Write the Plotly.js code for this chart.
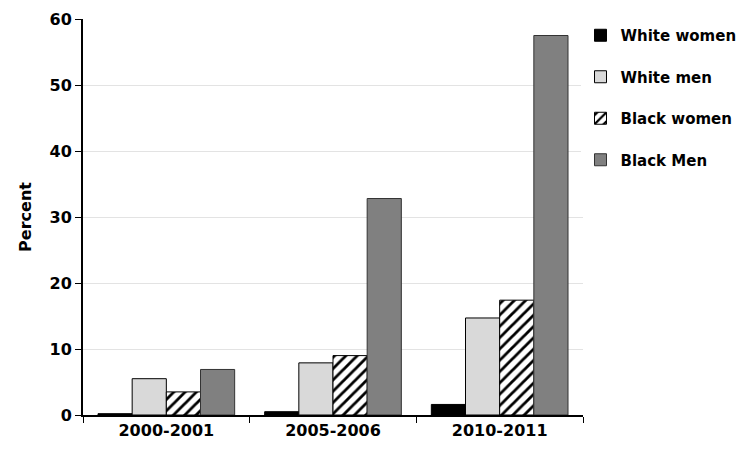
<!DOCTYPE html>
<html><head><meta charset="utf-8">
<script src="https://cdn.plot.ly/plotly-3.0.1.min.js"></script>
<style>body{margin:0;background:#fff}#c{width:754px;height:455px}</style>
</head><body><div id="c"></div>
<script>
const categories = ["2000-2001", "2005-2006", "2010-2011"];
const seriesNames = ["White women", "White men", "Black women", "Black Men"];
const whiteWomen = [0.2, 0.5, 1.6];
const whiteMen = [5.5, 7.9, 14.7];
const blackWomen = [3.5, 9.0, 17.4];
const blackMen = [6.9, 32.8, 57.5];
const yTicks = [0, 10, 20, 30, 40, 50, 60];

const vals = [whiteWomen, whiteMen, blackWomen, blackMen];
const colors = ["#000000", "#d9d9d9", "#ffffff", "#808080"];
const traces = vals.map((v, i) => {
  const t = {
    type: "bar", x: categories, y: v, name: seriesNames[i], legendgroup: "g" + i,
    marker: {color: colors[i], line: {color: "#000", width: 1}}
  };
  if (i === 2) t.marker.pattern = {shape: "/", fgcolor: "#000", bgcolor: "#fff", size: 8, solidity: 0.35};
  if (i === 3) t.marker.line.color = "#333";
  return t;
});
const fam = "'DejaVu Sans', Arial, sans-serif";
const font = {family: fam, size: 16, color: "#000", weight: "bold"};
Plotly.newPlot("c", traces, {
  width: 754, height: 455,
  margin: {l: 83, r: 171, t: 19, b: 40},
  paper_bgcolor: "#fff", plot_bgcolor: "#fff",
  barmode: "group", bargap: 0.18, bargroupgap: 0,
  font: font,
  xaxis: {type: "category", showline: true, linecolor: "#000", linewidth: 2, ticks: "outside", tickson: "boundaries", ticklen: 6, tickcolor: "#000", tickwidth: 1, showgrid: false, tickfont: font},
  yaxis: {range: [0, 60], tickvals: yTicks, showline: true, linecolor: "#000", linewidth: 2, ticks: "outside", ticklen: 6, tickcolor: "#000", gridcolor: "#e3e3e3", gridwidth: 1, zeroline: false, tickfont: font,
    title: {text: "Percent", font: font, standoff: 14}},
  legend: {x: 0.995, y: 1.0, xanchor: "left", yanchor: "top", traceorder: "grouped", font: {family: fam, size: 15, weight: "bold", color: "#000"}, tracegroupgap: 19, itemwidth: 30},
  showlegend: true
}, {staticPlot: true});
</script></body></html>
